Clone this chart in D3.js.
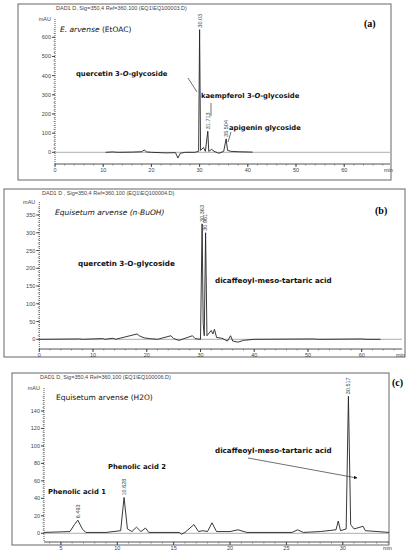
<!DOCTYPE html>
<html><head><meta charset="utf-8">
<script src="https://cdn.jsdelivr.net/npm/d3@7"></script>
<style>body{margin:0;background:#fff}</style></head>
<body><svg id="c" width="411" height="550"></svg>
<script>
// ---------- data ---------- //
const traceA = [[10.5,0],[12,2],[13,0],[16,1],[18,3],[18.5,12],[19,2],[20,0],[23,-3],[25,-2],[25.5,-30],[26,-5],[27,0],[29,0],[29.8,5],[30.0,640],[30.2,10],[30.8,25],[31.2,5],[31.7,110],[31.9,5],[32.5,15],[33,5],[34,-5],[35,5],[35.5,70],[35.8,10],[36.5,5],[38,3],[41,1]];
const traceB = [[0,0],[7.5,1],[8,0],[11.8,2],[12.2,0],[13.7,3],[14.2,0],[18.2,15],[18.6,10],[19.5,4],[20.5,2],[22,0],[24.5,10],[25,2],[26,-3],[28.5,10],[29,2],[30,0],[30.3,325],[30.5,45],[30.7,10],[30.95,300],[31.2,10],[32,25],[32.3,15],[32.6,28],[33,5],[34,3],[35,-5],[35.6,10],[36,-5],[37,-8],[38,-3],[40,0],[51,1],[52,0],[60,1],[61,0],[63.5,0]];
const traceC = [[3.5,1],[5.8,2],[6.2,10],[6.5,15],[6.9,5],[7.2,1],[9,1],[10.3,3],[10.6,41],[10.9,5],[11.3,2],[11.7,7],[12.1,2],[12.5,6],[12.8,1],[15.5,1],[15.7,-1],[16,1],[16.8,10],[17.2,2],[17.6,3],[18,2],[18.4,12],[18.8,2],[20,2],[20.7,4],[21.5,1],[25.5,1],[26,4],[26.5,1],[28,2],[29.4,4],[29.6,14],[29.8,3],[30.3,5],[30.5,157],[30.7,10],[31,5],[31.8,8],[32,3],[34.1,1]];
const ticksA = {x:[0,10,20,30,40,50,60], y:[0,100,200,300,400,500,600]};
const ticksB = {x:[0,10,20,30,40,50,60], y:[0,50,100,150,200,250,300,350]};
const ticksC = {x:[5,10,15,20,25,30], y:[0,20,40,60,80,100,120,140]};
const peaksA = [[30.03,"30.03"],[31.713,"31.713"],[35.504,"35.504"]];
const peaksB = [[30.363,"30.363"],[30.961,"30.961"]];
const peaksC = [[6.493,"6.493"],[10.628,"10.628"],[30.517,"30.517"]];

const svg = d3.select("#c");
const FT = "'Comic Sans MS','DejaVu Sans',sans-serif";

function panel(o){
    const g = svg.append("g");
    g.append("rect").attr("x",o.box[0]).attr("y",o.box[1]).attr("width",o.box[2]-o.box[0])
        .attr("height",o.box[3]-o.box[1]).attr("fill","none").attr("stroke","#666").attr("stroke-width",1);
    g.append("text").attr("x",o.box[0]+o.hdx).attr("y",o.box[1]+6).attr("font-size",5.5)
        .attr("font-family","Arial,sans-serif").attr("fill","#444").text(o.header);

    const x = d3.scaleLinear().domain(o.xd).range(o.xr);
    const y = d3.scaleLinear().domain(o.yd).range(o.yr);

    // zero baseline across the plot
    g.append("line").attr("x1",o.xr[0]).attr("x2",o.xr[1]).attr("y1",y(0)).attr("y2",y(0))
        .attr("stroke","#999").attr("stroke-width",0.8);

    // y axis
    g.append("line").attr("x1",o.xr[0]).attr("x2",o.xr[0]).attr("y1",o.ytop).attr("y2",o.axisY)
        .attr("stroke","#555").attr("stroke-dasharray","1,1");
    const yMinor = d3.range(o.yd[0], o.ymax+0.001, o.ystep/5);
    g.selectAll(null).data(yMinor).enter().append("line")
        .attr("x1",o.xr[0]-1.5).attr("x2",o.xr[0]).attr("y1",d=>y(d)).attr("y2",d=>y(d)).attr("stroke","#555").attr("stroke-width",0.6);
    g.selectAll(null).data(o.ticks.y).enter().append("line")
        .attr("x1",o.xr[0]-3).attr("x2",o.xr[0]).attr("y1",d=>y(d)).attr("y2",d=>y(d)).attr("stroke","#444");
    g.selectAll(null).data(o.ticks.y).enter().append("text")
        .attr("x",o.xr[0]-4).attr("y",d=>y(d)+2).attr("text-anchor","end").attr("font-size",5.5)
        .attr("font-family","Arial,sans-serif").attr("fill","#444").text(d=>d);
    g.append("text").attr("x",o.xr[0]-4).attr("y",o.ytop+2).attr("text-anchor","end").attr("font-size",5.5)
        .attr("font-family","Arial,sans-serif").attr("fill","#444").text("mAU");

    // x axis
    g.append("line").attr("x1",o.xr[0]).attr("x2",o.xr[1]).attr("y1",o.axisY).attr("y2",o.axisY)
        .attr("stroke","#555");
    const xMinor = d3.range(Math.ceil(o.xd[0]), o.xd[1], o.xminor);
    g.selectAll(null).data(xMinor).enter().append("line")
        .attr("x1",d=>x(d)).attr("x2",d=>x(d)).attr("y1",o.axisY).attr("y2",o.axisY+1.5).attr("stroke","#555").attr("stroke-width",0.6);
    g.selectAll(null).data(o.ticks.x).enter().append("line")
        .attr("x1",d=>x(d)).attr("x2",d=>x(d)).attr("y1",o.axisY).attr("y2",o.axisY+3).attr("stroke","#444");
    g.selectAll(null).data(o.ticks.x).enter().append("text")
        .attr("x",d=>x(d)).attr("y",o.axisY+8).attr("text-anchor","middle").attr("font-size",5.5)
        .attr("font-family","Arial,sans-serif").attr("fill","#444").text(d=>d);
    g.append("text").attr("x",o.xr[1]-6).attr("y",o.axisY+8).attr("font-size",5.5)
        .attr("font-family","Arial,sans-serif").attr("fill","#444").text("min");

    // trace
    const line = d3.line().x(d=>x(d[0])).y(d=>y(d[1]));
    g.append("path").datum(o.trace).attr("d",line).attr("fill","none").attr("stroke","#222").attr("stroke-width",0.9);

    // peak labels
    o.peaks.forEach(p=>{
        const pk = d3.least(o.trace, d=>Math.abs(d[0]-p[0]));
        const px = x(p[0]) + 1.8, py = Math.max(y(pk[1]) - 2, o.ytop - 6);
        g.append("text").attr("transform",`translate(${px},${py}) rotate(-90)`).attr("font-size",5.5)
            .attr("font-family","Arial,sans-serif").attr("fill","#444").text(p[1]);
    });

    g.append("text").attr("x",o.tag[0]).attr("y",o.tag[1]).attr("font-size",10).attr("font-weight","bold")
        .attr("font-family","'Liberation Serif','Times New Roman',serif").text(o.tagText);
    o.texts.forEach(t=>{
        const tx = g.append("text").attr("x",t[0]).attr("y",t[1]).attr("font-size",t[3]||7.5)
            .attr("font-family",FT).attr("font-weight",t[4]||"normal").attr("fill","#111");
        t[2].forEach(s=>tx.append("tspan").attr("font-style",s[1]?"italic":"normal").text(s[0]));
    });
    o.leaders.forEach(l=>{
        g.append("line").attr("x1",l[0]).attr("y1",l[1]).attr("x2",l[2]).attr("y2",l[3])
            .attr("stroke","#333").attr("stroke-width",0.7).attr("marker-end",l[4]?"url(#arr)":null);
    });
}

svg.append("defs").append("marker").attr("id","arr").attr("viewBox","0 0 10 10").attr("refX",9).attr("refY",5)
    .attr("markerWidth",5).attr("markerHeight",5).attr("orient","auto")
    .append("path").attr("d","M0,0L10,5L0,10z").attr("fill","#111");

panel({box:[18,4,391,180], hdx:38, header:"DAD1 D, Sig=350,4 Ref=360,100 (EQ1\\EQ100003.D)",
    xd:[0,69.5], xr:[55,390], yd:[0,600], yr:[152.3,37.3], ymax:640, ystep:100, xminor:2,
    ytop:19, axisY:164, ticks:ticksA, trace:traceA, peaks:peaksA, tag:[364,27], tagText:"(a)",
    texts:[[60,32,[["E. arvense",1],["  (EtOAC)",0]],7.5],
           [76,76,[["quercetin 3-",0],["O",1],["-glycoside",0]],6.8,"bold"],
           [201,98,[["kaempferol 3-",0],["O",1],["-glycoside",0]],6.8,"bold"],
           [229,130,[["apigenin glycoside",0]],6.8,"bold"]],
    leaders:[[188,78,197,92],[211,103,211,116],[231,132,228,142]]});

panel({box:[4,189,405,357], hdx:38, header:"DAD1 D , Sig=350,4 Ref=360,100 (EQ1\\EQ100004.D)",
    xd:[0,67.5], xr:[39.3,402], yd:[0,350], yr:[339.3,215], ymax:370, ystep:50, xminor:2,
    ytop:202, axisY:349, ticks:ticksB, trace:traceB, peaks:peaksB, tag:[375,214], tagText:"(b)",
    texts:[[55,215,[["Equisetum arvense (n-BuOH)",1]],7.5],
           [78,266,[["quercetin 3-O-glycoside",0]],7.2,"bold"],
           [215,283,[["dicaffeoyl-meso-tartaric acid",0]],7.2,"bold"]],
    leaders:[]});

panel({box:[12,373,389,545], hdx:28, header:"DAD1 D, Sig=350,4 Ref=360,100 (EQ1\\EQ100006.D)",
    xd:[3.5,34.1], xr:[44,389], yd:[0,140], yr:[533.3,411], ymax:158, ystep:20, xminor:1,
    ytop:388, axisY:542, ticks:ticksC, trace:traceC, peaks:peaksC, tag:[392,386], tagText:"(c)",
    texts:[[56,400,[["Equisetum arvense (H2O)",0]],7.5],
           [108,469,[["Phenolic acid 2",0]],6.8,"bold"],
           [48,494,[["Phenolic acid 1",0]],6.8,"bold"],
           [215,453,[["dicaffeoyl-meso-tartaric acid",0]],7.2,"bold"]],
    leaders:[[248,458,357,478,true]]});
</script></body></html>
